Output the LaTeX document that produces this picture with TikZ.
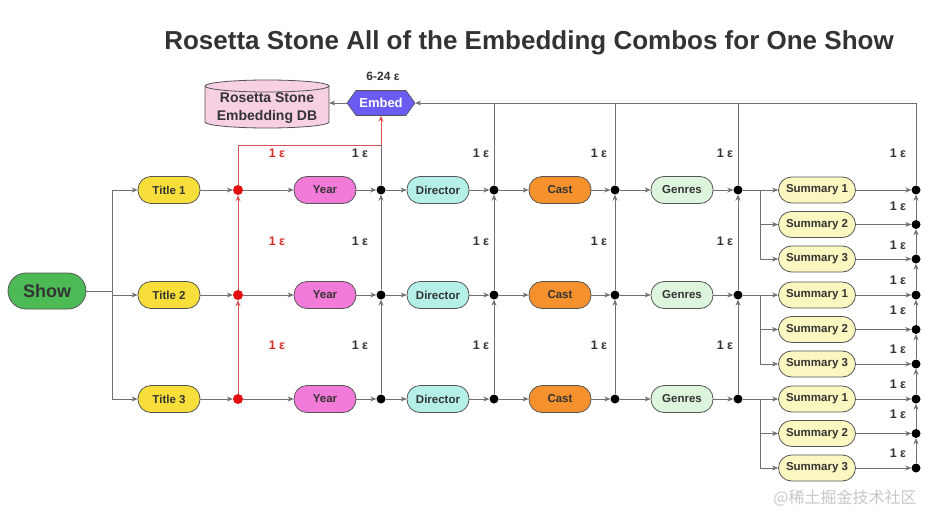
\documentclass[tikz,border=0pt]{standalone}
\usepackage{fontspec}
\setmainfont{Liberation Sans}
\newfontfamily\cjk{Noto Sans CJK SC}
\usetikzlibrary{arrows.meta}
\definecolor{linegrey}{HTML}{707070}
\definecolor{bordergrey}{HTML}{555555}
\definecolor{textdark}{HTML}{333333}
\definecolor{redline}{HTML}{D85050}
\definecolor{reddot}{HTML}{E01010}
\definecolor{redtext}{HTML}{D03030}
\definecolor{titleyellow}{HTML}{F8DE3A}
\definecolor{yearpink}{HTML}{F27AD8}
\definecolor{dircyan}{HTML}{B4F0E8}
\definecolor{castorange}{HTML}{F6922E}
\definecolor{genresgreen}{HTML}{DDF5DD}
\definecolor{sumyellow}{HTML}{FAF8C0}
\definecolor{showgreen}{HTML}{4CBB55}
\definecolor{dbpink}{HTML}{F8D0E4}
\definecolor{embedblue}{HTML}{6A5CF0}
\begin{document}
\begin{tikzpicture}[x=1pt,y=-1pt,
  pill/.style={draw=bordergrey, line width=0.8pt, rounded corners=13pt,
    minimum width=62pt, minimum height=27pt, inner sep=0pt,
    font=\bfseries\fontsize{11.5}{12}\selectfont, text=textdark},
  sumpill/.style={pill, fill=sumyellow, minimum width=77pt, minimum height=26pt},
  dot/.style={circle, fill=black, inner sep=0pt, minimum size=9pt},
  rdot/.style={circle, fill=reddot, inner sep=0pt, minimum size=10pt},
  wire/.style={draw=linegrey, line width=0.8pt},
  conn/.style={wire, -{Stealth[length=6pt,width=5pt]}},
  rwire/.style={draw=redline, line width=0.9pt},
  rconn/.style={rwire, -{Stealth[length=6pt,width=5pt]}},
  lbl/.style={font=\bfseries\fontsize{12.5}{13}\selectfont, text=textdark},
  rlbl/.style={lbl, text=redtext}]
\useasboundingbox (0,0) rectangle (928,516);

% title
\node[font=\bfseries\fontsize{26}{28}\selectfont, text=textdark] (title) at (529,43)
  {Rosetta Stone All of the Embedding Combos for One Show};

% DB cylinder
\path[fill=dbpink, draw=bordergrey, line width=0.8pt]
  (205,86) -- (205,122) arc[start angle=180, end angle=360, x radius=62pt, y radius=6pt]
  -- (329,86) arc[start angle=0, end angle=180, x radius=62pt, y radius=6pt] -- cycle;
\draw[bordergrey, line width=0.8pt] (205,86) arc[start angle=180, end angle=360, x radius=62pt, y radius=6pt];
\node[align=center, font=\bfseries\fontsize{14}{18}\selectfont, text=textdark, minimum width=124pt, minimum height=48pt, inner sep=0pt]
  (db) at (267,108) {Rosetta Stone\\Embedding DB};

% Embed hexagon
\filldraw[fill=embedblue, draw=bordergrey, line width=0.6pt]
  (347,103) -- (356,90.5) -- (406,90.5) -- (415,103) -- (406,115.5) -- (356,115.5) -- cycle;
\node[minimum width=68pt, minimum height=25pt, inner sep=0pt,
  font=\bfseries\fontsize{13}{14}\selectfont, text=white] (embed) at (381,103) {Embed};
\node[lbl, font=\bfseries\fontsize{12}{13}\selectfont] (embedcost) at (383,76) {6-24 ε};
\draw[conn] (embed.west) -- (embed.west -| db.east);

% Show
\node[draw=bordergrey, line width=0.8pt, fill=showgreen, rounded corners=18pt,
  minimum width=78pt, minimum height=36pt, inner sep=0pt,
  font=\bfseries\fontsize{18}{20}\selectfont, text=textdark] (show) at (47,291) {Show};
\coordinate (sb) at (112,291);
\coordinate (sb1) at (112,190);
\coordinate (sb2) at (112,295);
\coordinate (sb3) at (112,399);
\draw[wire] (show.east) -- (sb);
\draw[wire] (sb1) -- (sb3);

\foreach \r/\y in {1/190,2/295,3/399}{
  \node[pill, fill=titleyellow] (t\r) at (169,\y) {Title \r};
  \node[rdot] (rd\r) at (238,\y) {};
  \node[pill, fill=yearpink] (yr\r) at (325,\y) {Year};
  \node[dot] (dy\r) at (381,\y) {};
  \node[pill, fill=dircyan] (di\r) at (438,\y) {Director};
  \node[dot] (dd\r) at (494,\y) {};
  \node[pill, fill=castorange] (ca\r) at (560,\y) {Cast};
  \node[dot] (dc\r) at (615,\y) {};
  \node[pill, fill=genresgreen] (ge\r) at (682,\y) {Genres};
  \node[dot] (dg\r) at (738,\y) {};
  \node[sumpill] (s\r1) at (817,\y) {Summary 1};
  \node[sumpill] (s\r2) at (817,\y+34.5) {Summary 2};
  \node[sumpill] (s\r3) at (817,\y+69) {Summary 3};
  \node[dot] (rr\r1) at (916,\y) {};
  \node[dot] (rr\r2) at (916,\y+34.5) {};
  \node[dot] (rr\r3) at (916,\y+69) {};
  \coordinate (bs\r) at (760,\y);
  \draw[conn] (sb\r) -- (t\r);
  \draw[conn] (t\r) -- (rd\r);
  \draw[conn] (rd\r) -- (yr\r);
  \draw[conn] (yr\r) -- (dy\r);
  \draw[conn] (dy\r) -- (di\r);
  \draw[conn] (di\r) -- (dd\r);
  \draw[conn] (dd\r) -- (ca\r);
  \draw[conn] (ca\r) -- (dc\r);
  \draw[conn] (dc\r) -- (ge\r);
  \draw[conn] (ge\r) -- (dg\r);
  \draw[conn] (dg\r) -- (s\r1);
  \draw[conn] (bs\r) |- (s\r2);
  \draw[conn] (bs\r) |- (s\r3);
  \draw[conn] (s\r1) -- (rr\r1);
  \draw[conn] (s\r2) -- (rr\r2);
  \draw[conn] (s\r3) -- (rr\r3);
  \draw[conn] (rr\r3) -- (rr\r2);
  \draw[conn] (rr\r2) -- (rr\r1);
}

% column verticals
\draw[rconn] (rd3) -- (rd2);
\draw[rconn] (rd2) -- (rd1);
\foreach \c in {dy,dd,dc,dg}{
  \draw[conn] (\c3) -- (\c2);
  \draw[conn] (\c2) -- (\c1);
}
\draw[conn] (rr31) -- (rr23);
\draw[conn] (rr21) -- (rr13);

% top connections
\coordinate (rc) at (238,145);
\coordinate (yc) at (381,145);
\draw[rwire] (rd1) -- (rc) -- (yc);
\draw[wire] (dy1) -- (yc);
\draw[rconn] (yc) -- (embed.south);
\draw[conn] (rr11) |- (embed.east);
\draw[wire] (dd1) -- (dd1 |- embed.east);
\draw[wire] (dc1) -- (dc1 |- embed.east);
\draw[wire] (dg1) -- (dg1 |- embed.east);

% cost labels
\foreach \yy in {153,241,345}{
  \node[rlbl] (rl\yy) at (277,\yy) {1 ε};
  \foreach \xx in {360,481,599,725}{
    \node[lbl] (l\xx-\yy) at (\xx,\yy) {1 ε};
  }
}
\node[lbl] (lr0) at (898,153) {1 ε};
\foreach \yy in {206,245,280,310,349,384,414,453}{
  \node[lbl] (lr\yy) at (898,\yy) {1 ε};
}

% watermark
\node[font=\cjk\fontsize{16}{16}\selectfont, text=black!22] (wm) at (845,498) {@稀土掘金技术社区};
\end{tikzpicture}
\end{document}
